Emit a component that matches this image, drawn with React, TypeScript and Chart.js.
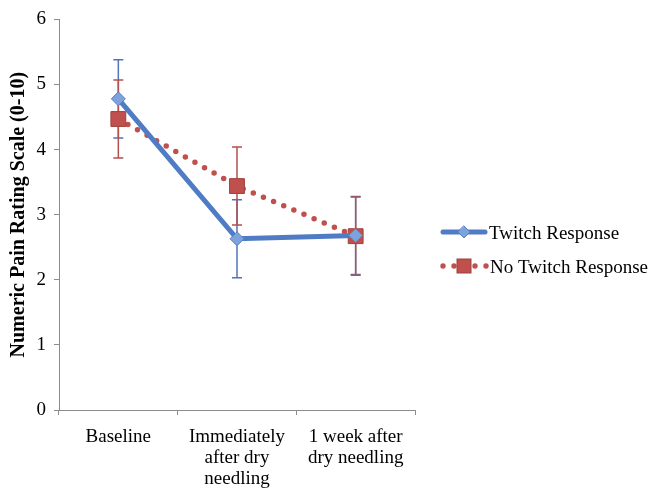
import React, { useEffect, useRef } from "react";
import { Chart, registerables } from "chart.js";
Chart.register(...registerables);

const categories: string[][] = [["Baseline"], ["Immediately", "after dry", "needling"], ["1 week after", "dry needling"]];
const seriesNames = ["Twitch Response", "No Twitch Response"];
const twitchMeans = [4.78, 2.63, 2.68];
const twitchErr = [0.6, 0.6, 0.6];
const noTwitchMeans = [4.47, 3.44, 2.67];
const noTwitchErr = [0.6, 0.6, 0.6];
const yMin = 0;
const yMax = 6;
const yStep = 1;
const yTitle = "Numeric Pain Rating Scale (0-10)";

const SERIF = "'Liberation Serif', 'Times New Roman', serif";
const BLUE = "#4f7cc4";
const BLUE_FILL = "#7ea2dc";
const RED = "#c0504d";
const RED_BAR = "#b4504e";

const errorBarPlugin = {
  id: "errorBars",
  beforeDatasetsDraw(chart: any) {
    const ctx = chart.ctx;
    const yScale = chart.scales.y;
    const errs = [twitchErr, noTwitchErr];
    const cols = ["#4f74bd", RED_BAR];
    [0, 1].forEach((di) => {
      const meta = chart.getDatasetMeta(di);
      const data = chart.data.datasets[di].data as number[];
      meta.data.forEach((pt: any, i: number) => {
        const x = pt.x;
        const yTop = yScale.getPixelForValue(data[i] + errs[di][i]);
        const yBot = yScale.getPixelForValue(data[i] - errs[di][i]);
        ctx.save();
        ctx.strokeStyle = cols[di];
        ctx.lineWidth = 1.5;
        ctx.beginPath();
        ctx.moveTo(x, yTop);
        ctx.lineTo(x, yBot);
        ctx.moveTo(x - 5, yTop);
        ctx.lineTo(x + 5, yTop);
        ctx.moveTo(x - 5, yBot);
        ctx.lineTo(x + 5, yBot);
        ctx.stroke();
        ctx.restore();
      });
    });
  },
};

const legendPlugin = {
  id: "customLegend",
  afterDraw(chart: any) {
    const ctx = chart.ctx;
    ctx.save();
    // Twitch
    let y = 232;
    ctx.strokeStyle = BLUE;
    ctx.lineWidth = 5;
    ctx.lineCap = "round";
    ctx.beginPath();
    ctx.moveTo(443, y);
    ctx.lineTo(485, y);
    ctx.stroke();
    ctx.fillStyle = BLUE_FILL;
    ctx.strokeStyle = "#5a80c4";
    ctx.lineWidth = 1;
    ctx.beginPath();
    ctx.moveTo(464, y - 6);
    ctx.lineTo(470, y);
    ctx.lineTo(464, y + 6);
    ctx.lineTo(458, y);
    ctx.closePath();
    ctx.fill();
    ctx.stroke();
    // No Twitch
    y = 266;
    ctx.fillStyle = RED;
    [443, 454, 475, 486].forEach((x) => {
      ctx.beginPath();
      ctx.arc(x, y, 2.7, 0, Math.PI * 2);
      ctx.fill();
    });
    ctx.fillStyle = RED;
    ctx.strokeStyle = "#a0413e";
    ctx.fillRect(457, y - 7, 14, 14);
    ctx.strokeRect(457, y - 7, 14, 14);
    ctx.fillStyle = "#000";
    ctx.font = `19px ${SERIF}`;
    ctx.textBaseline = "middle";
    ctx.textAlign = "left";
    ctx.fillText(seriesNames[0], 489, 234);
    ctx.fillText(seriesNames[1], 490, 268);
    ctx.restore();
  },
};

export default function App() {
  const ref = useRef<HTMLCanvasElement>(null);
  useEffect(() => {
    if (!ref.current) return;
    const chart = new Chart(ref.current, {
      type: "line",
      data: {
        labels: categories as any,
        datasets: [
          {
            label: seriesNames[0],
            data: twitchMeans,
            borderColor: BLUE,
            borderWidth: 5,
            backgroundColor: BLUE_FILL,
            pointStyle: "rectRot",
            pointRadius: 7,
            pointBackgroundColor: BLUE_FILL,
            pointBorderColor: "#5a80c4",
            pointBorderWidth: 1,
            tension: 0,
          },
          {
            label: seriesNames[1],
            data: noTwitchMeans,
            borderColor: RED,
            borderWidth: 5.5,
            borderDash: [0, 11],
            borderCapStyle: "round",
            backgroundColor: RED,
            pointStyle: "rect",
            pointRadius: 10.5,
            pointBackgroundColor: RED,
            pointBorderColor: "#a0413e",
            pointBorderWidth: 1,
            tension: 0,
          },
        ],
      },
      options: {
        responsive: false,
        animation: false,
        devicePixelRatio: 1,
        layout: { padding: { left: 0, right: 234, top: 15, bottom: 0 } },
        plugins: { legend: { display: false }, tooltip: { enabled: false } },
        scales: {
          x: {
            offset: true,
            grid: { drawOnChartArea: false, offset: true, tickLength: 5, color: "#8c8c8c" },
            border: { color: "#8c8c8c", width: 1 },
            ticks: { color: "#000", font: { family: SERIF, size: 19, lineHeight: 1.1 }, padding: 12, maxRotation: 0, autoSkip: false },
            afterFit: (s: any) => {
              s.height = 80;
            },
          },
          y: {
            min: yMin,
            max: yMax,
            grid: { drawOnChartArea: false, tickLength: 5, color: "#8c8c8c" },
            border: { color: "#8c8c8c", width: 1 },
            ticks: { stepSize: yStep, color: "#000", font: { family: SERIF, size: 19 }, padding: 8 },
            title: { display: true, text: yTitle, color: "#000", font: { family: SERIF, size: 20, weight: "bold" }, padding: { top: 7, bottom: 0 } },
            afterFit: (s: any) => {
              s.width = 59;
            },
          },
        },
      },
      plugins: [errorBarPlugin, legendPlugin],
    });
    return () => chart.destroy();
  }, []);
  return (
    <div style={{ position: "absolute", left: 0, top: 0, width: 649, height: 490, background: "#fff" }}>
      <canvas ref={ref} width={649} height={490} />
    </div>
  );
}
